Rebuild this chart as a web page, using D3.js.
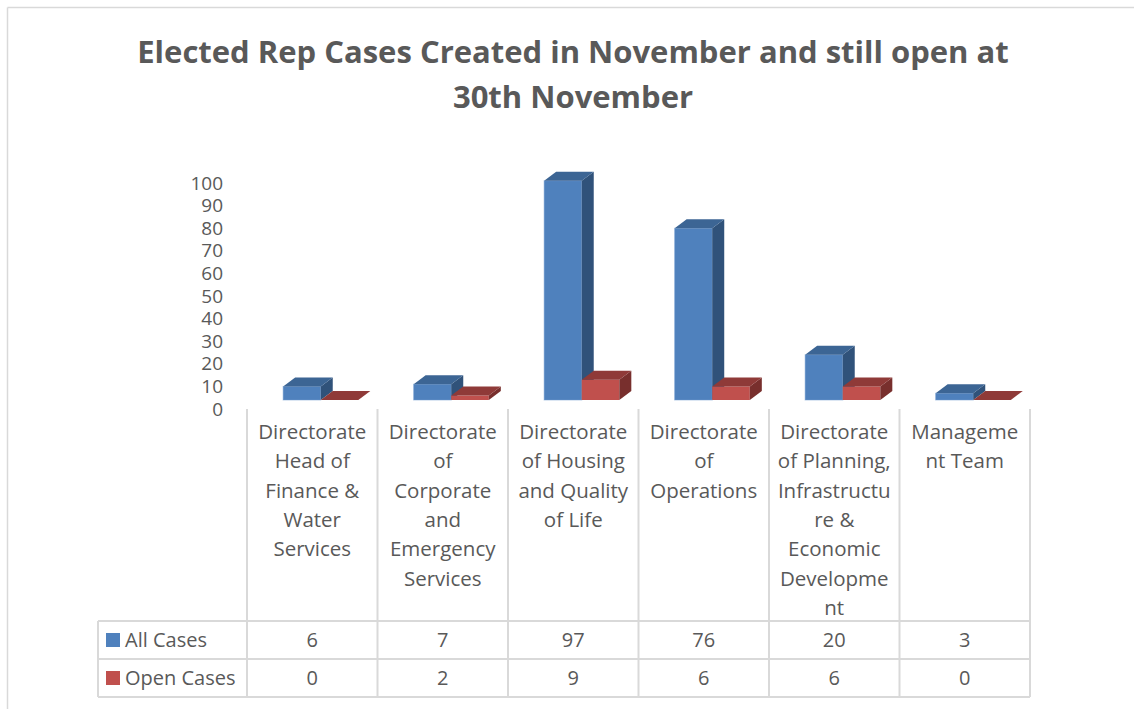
<!DOCTYPE html>
<html>
<head>
<meta charset="utf-8">
<script src="https://cdn.jsdelivr.net/npm/d3@7"></script>
<style>
  body { margin: 0; background: #fff; }
  svg { font-family: "Open Sans", sans-serif; }
</style>
</head>
<body>
<svg id="chart" width="1134" height="709"></svg>
<script>
// data
const categories = [
  "Directorate Head of Finance & Water Services",
  "Directorate of Corporate and Emergency Services",
  "Directorate of Housing and Quality of Life",
  "Directorate of Operations",
  "Directorate of Planning, Infrastructure & Economic Development",
  "Management Team"
];
// how Excel wrapped each label
const categoryLines = [
  ["Directorate", "Head of", "Finance &", "Water", "Services"],
  ["Directorate", "of", "Corporate", "and", "Emergency", "Services"],
  ["Directorate", "of Housing", "and Quality", "of Life"],
  ["Directorate", "of", "Operations"],
  ["Directorate", "of Planning,", "Infrastructu", "re &", "Economic", "Developme", "nt"],
  ["Manageme", "nt Team"]
];
const seriesNames = ["All Cases", "Open Cases"];
const allCases = [6, 7, 97, 76, 20, 3];
const openCases = [0, 2, 9, 6, 6, 0];
const yTicks = [0, 10, 20, 30, 40, 50, 60, 70, 80, 90, 100];

const seriesValues = [allCases, openCases];
const fills = [
  {front: "#4f81bd", top: "#3c6594", side: "#30527a"},
  {front: "#c0504d", top: "#8f3a38", side: "#782f2d"}
];

const svg = d3.select("#chart");
const textCol = "#595959";
const gridCol = "#d9d9d9";

// chart area border (only left/top visible in the crop)
svg.append("line").attr("x1", 7.5).attr("y1", 7.5).attr("x2", 1134).attr("y2", 7.5)
  .attr("stroke", gridCol).attr("stroke-width", 1.5);
svg.append("line").attr("x1", 7.5).attr("y1", 7.5).attr("x2", 7.5).attr("y2", 709)
  .attr("stroke", gridCol).attr("stroke-width", 1.5);

// title
const title = svg.append("text")
  .attr("x", 573).attr("text-anchor", "middle")
  .attr("fill", textCol).style("font-size", "31px").style("font-weight", "bold");
title.append("tspan").attr("x", 573).attr("y", 63).text("Elected Rep Cases Created in November and still open at");
title.append("tspan").attr("x", 573).attr("y", 108).text("30th November");

// scales
const x = d3.scaleBand().domain(categories).range([247, 1030]).paddingInner(0);
const y = d3.scaleLinear().domain([0, 100]).range([409, 183]);
const depthX = 12, depthY = -9;   // 3d offset
const barW = x.bandwidth() * 0.288;
const barOff = x.bandwidth() * 0.277;

// y axis
const yAxis = d3.axisLeft(y).tickValues(yTicks).tickSize(0).tickPadding(0);
const gy = svg.append("g").attr("transform", "translate(223,0)").call(yAxis);
gy.select(".domain").remove();
gy.selectAll("text").attr("fill", textCol).style("font-size", "19px")
  .style("font-family", "'Open Sans', sans-serif");

// bars
const bars = svg.append("g");
categories.forEach((c, i) => {
  seriesValues.forEach((vals, s) => {
    const v = vals[i];
    const x0 = x(c) + barOff + s * barW;
    const x1 = x0 + barW;
    const yb = y(0) + depthY;
    const yt = y(v) + depthY;
    const g = bars.append("g");
    // front face
    if (v > 0) {
      g.append("rect").attr("x", x0).attr("y", yt).attr("width", barW).attr("height", yb - yt)
        .attr("fill", fills[s].front).attr("stroke", "#6f9bd1").attr("stroke-opacity", s ? 0 : 0.5);
      // side face
      g.append("path")
        .attr("d", `M${x1},${yt} L${x1 + depthX},${yt + depthY} L${x1 + depthX},${yb + depthY} L${x1},${yb} Z`)
        .attr("fill", fills[s].side);
    }
    // top face
    g.append("path")
      .attr("d", `M${x0},${yt} L${x0 + depthX},${yt + depthY} L${x1 + depthX},${yt + depthY} L${x1},${yt} Z`)
      .attr("fill", fills[s].top);
  });
});

// data table
const tbl = svg.append("g").attr("stroke", gridCol).attr("stroke-width", 2);
const rowTop = 621, rowH = 38;
x.domain().forEach((c, i) => {
  tbl.append("line").attr("x1", x(c)).attr("x2", x(c)).attr("y1", 409).attr("y2", rowTop + 2 * rowH);
});
tbl.append("line").attr("x1", 1030).attr("x2", 1030).attr("y1", 409).attr("y2", rowTop + 2 * rowH);
tbl.append("line").attr("x1", 98).attr("x2", 98).attr("y1", rowTop).attr("y2", rowTop + 2 * rowH);
[0, 1, 2].forEach(r => {
  tbl.append("line").attr("x1", 98).attr("x2", 1030).attr("y1", rowTop + r * rowH).attr("y2", rowTop + r * rowH);
});

// category labels
categories.forEach((c, i) => {
  const t = svg.append("text").attr("text-anchor", "middle").attr("fill", textCol)
    .style("font-size", "20.5px");
  categoryLines[i].forEach((ln, k) => {
    t.append("tspan").attr("x", x(c) + x.bandwidth() / 2).attr("y", 439 + k * 29.3).text(ln);
  });
});

// series rows
seriesNames.forEach((name, s) => {
  const cy = rowTop + s * rowH + rowH / 2;
  svg.append("rect").attr("x", 106).attr("y", cy - 7).attr("width", 14).attr("height", 14)
    .attr("fill", fills[s].front);
  svg.append("text").attr("x", 125).attr("y", cy + 7).attr("fill", textCol)
    .style("font-size", "20px").text(name);
  seriesValues[s].forEach((v, i) => {
    svg.append("text").attr("x", x(categories[i]) + x.bandwidth() / 2).attr("y", cy + 7)
      .attr("text-anchor", "middle").attr("fill", textCol).style("font-size", "20px").text(v);
  });
});
</script>
</body>
</html>
